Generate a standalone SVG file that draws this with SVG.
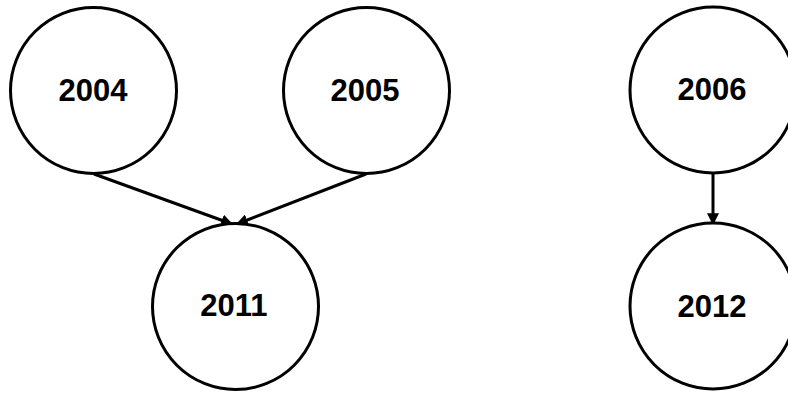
<svg xmlns="http://www.w3.org/2000/svg" width="788" height="394" viewBox="0 0 788 394">
  <style>
    .node circle { fill: #ffffff; stroke: #000000; stroke-width: 3; }
    .node text { font-family: "Liberation Sans", Arial, sans-serif; font-weight: bold; font-size: 31px; fill: #000000; text-anchor: middle; }
    .edge { stroke: #000000; stroke-width: 3; fill: none; marker-end: url(#arrow); }
  </style>
  <defs>
    <marker id="arrow" viewBox="0 0 10 10" refX="9" refY="5" markerWidth="4" markerHeight="4" orient="auto" markerUnits="strokeWidth">
      <path d="M0,0 L10,5 L0,10 z" fill="#000000"/>
    </marker>
  </defs>
  <rect width="788" height="394" fill="#ffffff"/>
  <g id="connectors">
    <line class="edge" x1="94" y1="174" x2="232" y2="224"/>
    <line class="edge" x1="366" y1="174" x2="237" y2="224"/>
    <line class="edge" x1="713" y1="173" x2="713" y2="224"/>
  </g>
  <g id="node-2004" class="node">
    <circle cx="93.5" cy="90.5" r="83"/>
    <text x="93" y="101">2004</text>
  </g>
  <g id="node-2005" class="node">
    <circle cx="366.5" cy="90.5" r="83"/>
    <text x="365" y="101">2005</text>
  </g>
  <g id="node-2011" class="node">
    <circle cx="235.5" cy="306.5" r="83"/>
    <text x="234" y="316">2011</text>
  </g>
  <g id="node-2006" class="node">
    <circle cx="713" cy="90" r="83"/>
    <text x="712" y="100">2006</text>
  </g>
  <g id="node-2012" class="node">
    <circle cx="713" cy="306" r="83"/>
    <text x="712" y="317">2012</text>
  </g>
</svg>
